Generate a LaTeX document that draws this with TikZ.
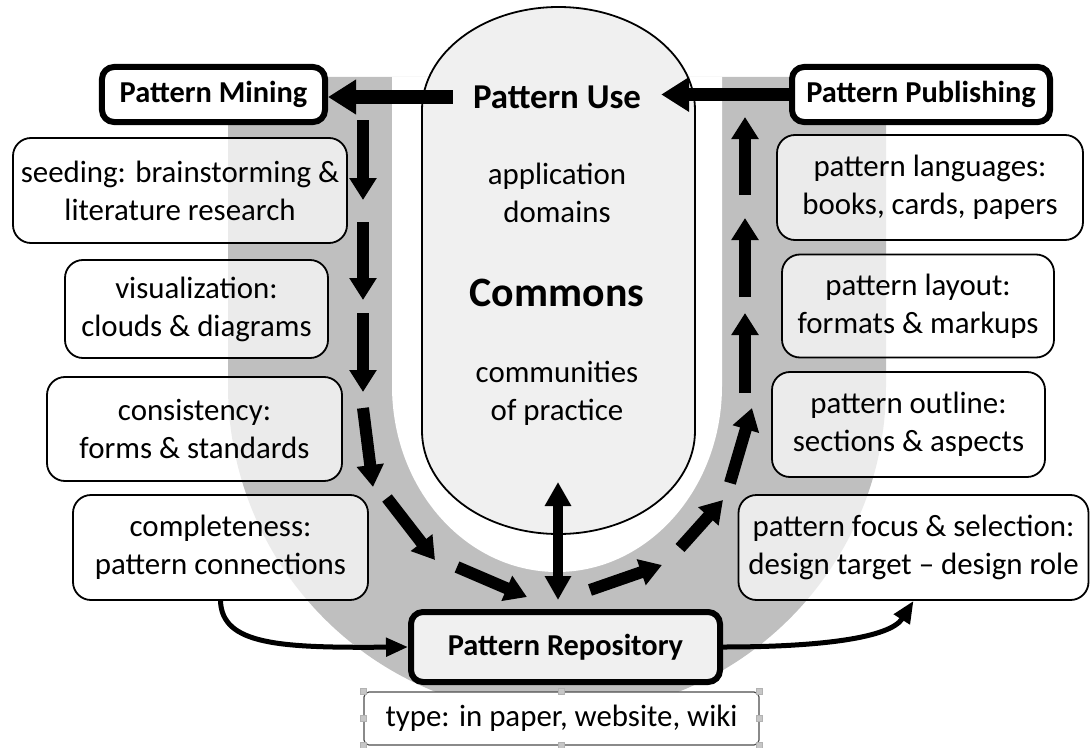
\documentclass[tikz,border=0pt]{standalone}
\usepackage{fontspec}
\setmainfont{Carlito}
\usetikzlibrary{arrows.meta,calc}
\definecolor{band}{gray}{0.75}
\definecolor{pod}{gray}{0.94}
\begin{document}
\begin{tikzpicture}[x=1bp,y=-1bp,
  base/.style={font=\fontsize{31}{38}\selectfont, align=center, inner sep=0pt},
  stage/.style={base, draw, line width=6bp, rounded corners=12bp, fill=white,
    font=\fontsize{30.5}{38}\selectfont\bfseries},
  topic/.style={base, draw, line width=1.8bp, rounded corners=18bp,
    fill=white, fill opacity=0.7, text opacity=1},
  flow/.style={line width=12bp, -{Triangle[length=22bp,width=26bp]}},
  toparrow/.style={line width=13bp, -{Triangle[length=28bp,width=33bp]}},
  both/.style={line width=10bp, {Triangle[length=24bp,width=25bp]}-{Triangle[length=24bp,width=25bp]}},
  link/.style={line width=5bp, -{Triangle[length=22bp,width=18bp]}},
  handle/.style={draw=gray!60, fill=gray!45, line width=0.5bp, minimum size=6bp, inner sep=0pt}
]
\useasboundingbox (0,0) rectangle (1090,748);

% grey U band and the white gap inside it
\fill[band] (228,77) -- (228,386) arc[start angle=180, end angle=0, radius=329] -- (886,77) -- cycle;
\fill[white] (392,77) -- (392,386) arc[start angle=180, end angle=0, x radius=165, y radius=186] -- (722,77) -- cycle;

% the commons capsule
\draw[line width=1.8bp, fill=pod] (422,110) -- (422,431)
  arc[start angle=180, end angle=0, x radius=136.5, y radius=103] -- (695,110)
  arc[start angle=0, end angle=-180, x radius=136.5, y radius=103] -- cycle;

\node[base, inner xsep=20bp, font=\fontsize{35}{40}\selectfont\bfseries] (use) at (557,97) {Pattern Use};
\node[base] (domains) at (557,192.5) {application\\domains};
\node[base, font=\fontsize{42}{46}\selectfont\bfseries] (commons) at (557,293) {Commons};
\node[base] (practice) at (557,393.5) {communities\\of practice};

% stage boxes
\node[stage, minimum width=223bp, minimum height=55bp] (mining) at (213.5,94.5) {Pattern Mining};
\node[stage, minimum width=258bp, minimum height=55bp] (pub) at (921,94.5) {Pattern Publishing};
\node[stage, fill=pod, minimum width=309bp, minimum height=70bp] (repo) at (565.5,647) {Pattern Repository};

% mining topics
\node[topic, minimum width=334bp, minimum height=105bp] (seed) at (180,190.5) {seeding: brainstorming \&\\literature research};
\node[topic, minimum width=263bp, minimum height=98bp] (vis) at (196.5,309) {visualization:\\clouds \& diagrams};
\node[topic, minimum width=295bp, minimum height=104bp] (cons) at (194.5,429) {consistency:\\forms \& standards};
\node[topic, minimum width=295bp, minimum height=105bp] (comp) at (220.5,547.5) {completeness:\\pattern connections};

% publishing topics
\node[topic, minimum width=306bp, minimum height=105bp] (lang) at (930,187.5) {pattern languages:\\books, cards, papers};
\node[topic, minimum width=272bp, minimum height=103bp] (layout) at (918,306) {pattern layout:\\formats \& markups};
\node[topic, minimum width=273bp, minimum height=105bp] (outline) at (908.5,424.5) {pattern outline:\\sections \& aspects};
\node[topic, minimum width=350bp, minimum height=105bp] (focus) at (913.5,547.5) {pattern focus \& selection:\\design target -- design role};

% repository type box with its selection handles
\node[base, draw=black!70, line width=1.2bp, rounded corners=5bp, fill=white,
  minimum width=395bp, minimum height=53bp] (type) at (561.5,718.5) {type: in paper, website, wiki};
\foreach \a [count=\i] in {north west,north,north east,west,east,south west,south,south east}
  \node[handle] (h\i) at (type.\a) {};

% cycle arrows along the band
\foreach \n/\p/\q in {l1/{363,120}/{363,200}, l2/{363,222}/{363,300}, l3/{363,313}/{363,392},
                      l4/{363,408}/{373,487}, l5/{387,498}/{435,560}, l6/{457,567}/{527,597},
                      r1/{590,590}/{662,565}, r2/{680,548}/{723,500}, r3/{730,483}/{752,408},
                      r4/{745,393}/{745,313}, r5/{745,297}/{745,218}, r6/{745,195}/{745,117}} {
  \coordinate (\n-s) at (\p);
  \coordinate (\n-e) at (\q);
  \draw[flow] (\n-s) -- (\n-e);
}

% exchange between commons and repository
\coordinate (x-top) at (558,482);
\coordinate (x-bot) at (558,600);
\draw[both] (x-top) -- (x-bot);

% top arrows
\draw[toparrow] (use.west) -- (use.west -| mining.east);
\draw[toparrow] (pub.west) -- (pub.west -| use.east);

% links through the repository
\draw[link] (comp.south) .. controls (222,645) and (280,648) .. (repo.west);
\draw[link] (repo.east) .. controls (820,647) and (890,638) .. (focus.south);
\end{tikzpicture}
\end{document}
